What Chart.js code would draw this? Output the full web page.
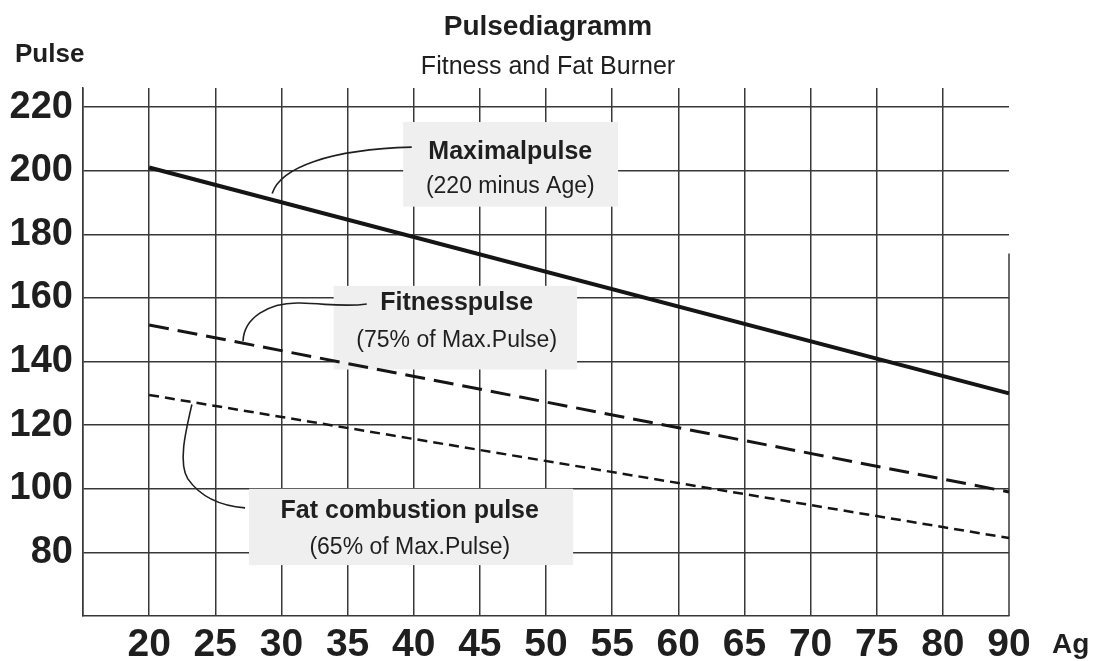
<!DOCTYPE html>
<html>
<head>
<meta charset="utf-8">
<script src="https://cdn.jsdelivr.net/npm/chart.js@4/dist/chart.umd.min.js"></script>
<style>
  body { margin: 0; background: #ffffff; }
  #wrap { width: 1096px; height: 661px; position: relative; }
</style>
</head>
<body>
<div id="wrap"><canvas id="pulseChart"></canvas></div>
<script>
// categories on the age axis (first slot is the blank one left of 20)
const ages = ['', '20', '25', '30', '35', '40', '45', '50', '55', '60', '65', '70', '75', '80', '90'];
const yTicks = [80, 100, 120, 140, 160, 180, 200, 220];

// end points of the three lines
const lineAges = ['20', '90'];
const maxPulse = [201, 130];
const fitnessPulse = [151.5, 99];
const fatPulse = [129.5, 84.5];

const INK = '#1f1f1f';
const GRID = '#383838';
const FONT = '"Liberation Sans", Arial, Helvetica, sans-serif';

const toPoints = (vals) => vals.map((v, i) => ({ x: lineAges[i], y: v }));

// labels with callouts, placed in data units (x = age slot index, y = pulse)
const notes = [
    {
        box: [4.84, 215.3, 8.09, 188.7],
        cx: 6.46,
        title: 'Maximalpulse', titleY: 205.8,
        sub: '(220 minus Age)', subY: 195.0,
        path: [[2.86, 192.8], [2.98, 201.0], [3.73, 206.7], [4.97, 207.4]]
    },
    {
        box: [3.79, 163.8, 7.47, 137.5],
        cx: 5.65,
        title: 'Fitnesspulse', titleY: 158.4,
        sub: '(75% of Max.Pulse)', subY: 146.7,
        path: [[2.42, 146.4], [2.43, 153.6], [2.80, 158.7], [3.28, 158.4],
               [3.73, 158.1], [3.96, 157.1], [4.29, 158.1]]
    },
    {
        box: [2.51, 100.0, 7.41, 76.0],
        cx: 4.94,
        title: 'Fat combustion pulse', titleY: 93.0,
        sub: '(65% of Max.Pulse)', subY: 81.6,
        path: [[1.646, 126.5], [1.555, 118.3], [1.434, 108.2], [1.585, 103.1],
               [1.767, 97.7], [2.07, 94.6], [2.45, 94.0]]
    }
];

const notesPlugin = {
    id: 'notes',
    beforeDatasetsDraw(chart) {
        const { ctx, scales: { x, y }, chartArea } = chart;
        ctx.save();

        // the short grid line at 90 starts lower than the others
        const x90 = x.getPixelForValue(ages.length - 1);
        ctx.strokeStyle = GRID;
        ctx.lineWidth = 1.5;
        ctx.beginPath();
        ctx.moveTo(x90, y.getPixelForValue(174));
        ctx.lineTo(x90, chartArea.bottom);
        ctx.stroke();

        notes.forEach(n => {
            const l = x.getPixelForValue(n.box[0]);
            const t = y.getPixelForValue(n.box[1]);
            const r = x.getPixelForValue(n.box[2]);
            const b = y.getPixelForValue(n.box[3]);
            ctx.fillStyle = '#efefef';
            ctx.fillRect(l, t, r - l, b - t);

            const p = n.path.map(q => [x.getPixelForValue(q[0]), y.getPixelForValue(q[1])]);
            ctx.strokeStyle = INK;
            ctx.lineWidth = 1.6;
            ctx.beginPath();
            ctx.moveTo(p[0][0], p[0][1]);
            for (let i = 1; i + 2 < p.length; i += 3) {
                ctx.bezierCurveTo(p[i][0], p[i][1], p[i + 1][0], p[i + 1][1], p[i + 2][0], p[i + 2][1]);
            }
            ctx.stroke();

            ctx.fillStyle = INK;
            ctx.textAlign = 'center';
            ctx.textBaseline = 'middle';
            const cx = x.getPixelForValue(n.cx);
            ctx.font = 'bold 25px ' + FONT;
            ctx.fillText(n.title, cx, y.getPixelForValue(n.titleY));
            ctx.font = '23px ' + FONT;
            ctx.fillText(n.sub, cx, y.getPixelForValue(n.subY));
        });
        ctx.restore();
    },
    afterDraw(chart) {
        const { ctx } = chart;
        ctx.save();
        ctx.fillStyle = INK;
        ctx.textBaseline = 'alphabetic';

        ctx.textAlign = 'center';
        ctx.font = 'bold 28px ' + FONT;
        ctx.fillText('Pulsediagramm', 548, 35);
        ctx.font = '25px ' + FONT;
        ctx.fillText('Fitness and Fat Burner', 548, 74);

        ctx.textAlign = 'left';
        ctx.font = 'bold 26px ' + FONT;
        ctx.fillText('Pulse', 15, 62);
        ctx.font = 'bold 28px ' + FONT;
        ctx.fillText('Ag', 1052, 653);
        ctx.restore();
    }
};

new Chart(document.getElementById('pulseChart'), {
    type: 'line',
    data: {
        labels: ages,
        datasets: [
            {
                label: 'Maximalpulse',
                data: toPoints(maxPulse),
                borderColor: '#151515',
                borderWidth: 4,
                pointRadius: 0,
                clip: 8
            },
            {
                label: 'Fitnesspulse',
                data: toPoints(fitnessPulse),
                borderColor: '#151515',
                borderWidth: 3,
                borderDash: [20, 9],
                pointRadius: 0,
                clip: 8
            },
            {
                label: 'Fat combustion pulse',
                data: toPoints(fatPulse),
                borderColor: '#151515',
                borderWidth: 2.5,
                borderDash: [10, 6],
                pointRadius: 0,
                clip: 8
            }
        ]
    },
    options: {
        responsive: true,
        maintainAspectRatio: false,
        animation: false,
        layout: {
            padding: { top: 88, right: 87, left: 0, bottom: 0 }
        },
        scales: {
            x: {
                type: 'category',
                offset: false,
                afterFit: (scale) => { scale.height = 45; },
                border: { display: true, color: GRID, width: 1.5 },
                grid: {
                    drawTicks: false,
                    lineWidth: 1.5,
                    color: (c) => c.index === ages.length - 1 ? 'rgba(0,0,0,0)' : GRID
                },
                ticks: {
                    autoSkip: false,
                    maxRotation: 0,
                    padding: 6,
                    color: INK,
                    font: { family: FONT, size: 39, weight: 'bold' }
                }
            },
            y: {
                min: 60,
                max: 226,
                afterFit: (scale) => { scale.width = 83; },
                afterBuildTicks: (scale) => { scale.ticks = yTicks.map(v => ({ value: v })); },
                border: { display: true, color: GRID, width: 1.5 },
                grid: { drawTicks: false, lineWidth: 1.5, color: GRID },
                ticks: {
                    padding: 10,
                    color: INK,
                    font: { family: FONT, size: 38, weight: 'bold' }
                }
            }
        },
        plugins: {
            legend: { display: false },
            tooltip: { enabled: false }
        }
    },
    plugins: [notesPlugin]
});
</script>
</body>
</html>
